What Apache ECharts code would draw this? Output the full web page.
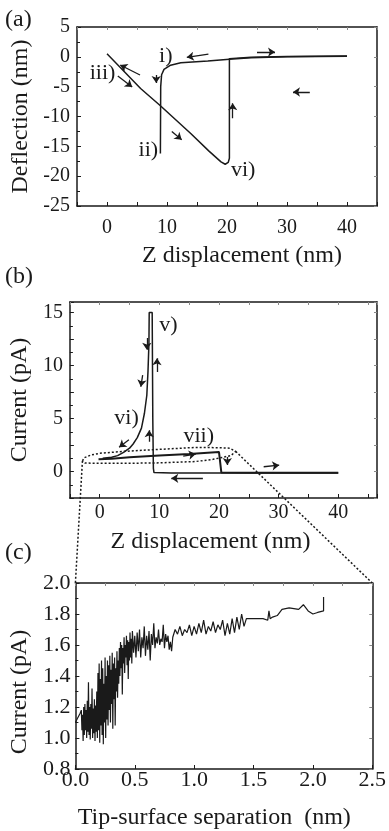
<!DOCTYPE html>
<html>
<head>
<meta charset="utf-8">
<script src="https://cdn.jsdelivr.net/npm/echarts@6/dist/echarts.min.js"></script>
<style>
  html, body { margin: 0; padding: 0; background: #fff; }
  #chart { width: 389px; height: 831px; }
</style>
</head>
<body>
<div id="chart"></div>
<script>
// (a) deflection vs Z displacement
var retractA = [[0, 0.5], [5.6, -5.3], [8.9, -8.2], [14, -12.9], [17, -15.8], [19, -17.6], [19.7, -18.0],
  [20.2, -17.7], [20.4, -17], [20.4, -0.3], [24, -0.05], [30, 0.05], [40, 0.15]];
var approachA = [[40, 0.1], [30, 0.0], [24, -0.15], [20.4, -0.4], [16.8, -0.7], [12.3, -1.0], [10.6, -1.4],
  [9.5, -2.1], [9.1, -3.0], [8.95, -5], [8.9, -16.2]];
var arrowsA = [
  [[5.5, -3.05], [2.2, -1.37]], [[1.8, -3.2], [4.2, -5.05]], [[8.2, -3.05], [8.2, -4.4]],
  [[16.9, 0.47], [13.3, -0.08]], [[25, 0.8], [28, 0.8]], [[33.8, -5.9], [31, -5.9]],
  [[10.8, -12.5], [12.45, -13.9]], [[20.95, -10.3], [20.95, -7.8]]
];
var labelsA = [['i)', 9.8, 0.1], ['ii)', 6.9, -15.6], ['iii)', -0.75, -2.75], ['vi)', 22.7, -19.0]];

// (b) current vs Z displacement
var spikeB = [[0.5, 1.25], [2, 1.35], [3, 1.5], [4, 1.8], [5, 2.2], [5.6, 2.6], [6.3, 3.2], [7, 4.1],
  [7.5, 5.5], [7.9, 7.2], [8.1, 9.5], [8.25, 12], [8.3, 15], [8.8, 15], [8.85, 10], [8.9, 5], [9.0, 0.3],
  [9.1, -0.1], [12, -0.15], [20, -0.15], [30, -0.15], [40, -0.15]];
var mainB = [[-0.2, 1.15], [2, 1.2], [5, 1.35], [10, 1.5], [15, 1.65], [20, 1.85], [20.3, 1.85],
  [20.4, -0.1], [25, -0.12], [40, -0.12]];
var zoomRegionB = [[-2.9, 1.0], [-2.6, 1.3], [-1.5, 1.55], [0, 1.72], [4, 1.9], [8, 2.03], [12, 2.15],
  [16, 2.27], [20, 2.25], [21.8, 2.2], [22.8, 1.9], [22, 1.5], [19, 1.15], [16, 0.94], [9, 0.8],
  [0.8, 0.77], [-2.5, 0.8], [-2.9, 1.0]];
var arrowsB = [
  [[7.9, 12.6], [7.9, 11.5]], [[9.6, 9.4], [9.6, 10.7]], [[7.2, 9.1], [6.9, 8.0]], [[8.3, 2.8], [8.3, 3.9]],
  [[4.9, 3.0], [3.25, 2.3]], [[14, 1.46], [16.1, 1.65]], [[21.4, 1.37], [21.4, 0.61]],
  [[17.3, -0.64], [12, -0.64]], [[27.5, 0.45], [30.1, 0.6]]
];
var labelsB = [['v)', 11.5, 13.8], ['vi)', 4.5, 5.0], ['vii)', 16.6, 3.3]];

// (c) current vs tip-surface separation
var sepCurrent = [
  [0.00, 1.10], [0.02, 1.13], [0.04, 1.16], [0.05, 1.18], [0.055, 1.05], [0.06, 1.15], [0.065, 0.98], [0.07, 1.20],
  [0.075, 1.02], [0.08, 1.22], [0.085, 1.05], [0.09, 1.18], [0.095, 1.00], [0.10, 1.24], [0.105, 1.04], [0.11, 1.36],
  [0.115, 1.02], [0.12, 1.20], [0.125, 0.99], [0.13, 1.22], [0.135, 1.06], [0.14, 1.32], [0.145, 1.00], [0.15, 1.19],
  [0.155, 1.03], [0.16, 1.25], [0.165, 0.98], [0.17, 1.21], [0.175, 1.04], [0.18, 1.30],
  [0.185, 1.00], [0.19, 1.42], [0.195, 1.05], [0.20, 1.48], [0.205, 0.97], [0.21, 1.38], [0.215, 1.08], [0.22, 1.50],
  [0.225, 1.02], [0.23, 1.45], [0.235, 0.96], [0.24, 1.35], [0.245, 1.10], [0.25, 1.52], [0.255, 1.00], [0.26, 1.40],
  [0.265, 1.12], [0.27, 1.50], [0.275, 1.08], [0.28, 1.47], [0.285, 1.18], [0.29, 1.53], [0.295, 1.10], [0.30, 1.44],
  [0.305, 1.22], [0.31, 1.55], [0.315, 1.06], [0.32, 1.48], [0.325, 1.25], [0.33, 1.52], [0.335, 1.08], [0.34, 1.45],
  [0.345, 1.30], [0.35, 1.56], [0.355, 1.26], [0.36, 1.50], [0.365, 1.35], [0.37, 1.58],
  [0.375, 1.40], [0.38, 1.62], [0.385, 1.45], [0.39, 1.60], [0.395, 1.28], [0.40, 1.58], [0.405, 1.48], [0.41, 1.65],
  [0.415, 1.42], [0.42, 1.60], [0.425, 1.52], [0.43, 1.66], [0.435, 1.47], [0.44, 1.63], [0.445, 1.38], [0.45, 1.62],
  [0.455, 1.50], [0.46, 1.68], [0.465, 1.52], [0.47, 1.64], [0.475, 1.48], [0.48, 1.69],
  [0.49, 1.55], [0.50, 1.66], [0.51, 1.52], [0.52, 1.68], [0.53, 1.56], [0.54, 1.70], [0.55, 1.52], [0.56, 1.65],
  [0.57, 1.58], [0.58, 1.72], [0.59, 1.53], [0.60, 1.66], [0.61, 1.57], [0.62, 1.69],
  [0.63, 1.50], [0.64, 1.67], [0.65, 1.60], [0.66, 1.74], [0.67, 1.58], [0.68, 1.65], [0.69, 1.61], [0.70, 1.70],
  [0.71, 1.60], [0.72, 1.64], [0.73, 1.62], [0.74, 1.73], [0.75, 1.58], [0.76, 1.67], [0.77, 1.62], [0.78, 1.66],
  [0.79, 1.57], [0.80, 1.62], [0.81, 1.56], [0.82, 1.65],
  [0.84, 1.70], [0.86, 1.67], [0.88, 1.72], [0.90, 1.66], [0.92, 1.70], [0.94, 1.68], [0.96, 1.73], [0.98, 1.66],
  [1.00, 1.72], [1.02, 1.67], [1.04, 1.74], [1.06, 1.68], [1.08, 1.76], [1.10, 1.67], [1.12, 1.72], [1.14, 1.69],
  [1.16, 1.75], [1.18, 1.68], [1.20, 1.73], [1.22, 1.70], [1.24, 1.76], [1.26, 1.66], [1.28, 1.74], [1.30, 1.67],
  [1.32, 1.77], [1.34, 1.68], [1.36, 1.78], [1.38, 1.70], [1.40, 1.80], [1.42, 1.72], [1.44, 1.77],
  [1.50, 1.77], [1.58, 1.77], [1.62, 1.76], [1.63, 1.82], [1.64, 1.77], [1.66, 1.78], [1.70, 1.79], [1.74, 1.83],
  [1.80, 1.84], [1.88, 1.83], [1.92, 1.86], [1.96, 1.82], [2.00, 1.80], [2.04, 1.81], [2.09, 1.82], [2.09, 1.91]
];

var serif = "'Liberation Serif', 'Times New Roman', Times, serif";
var ink = '#1a1a1a';
var chart = echarts.init(document.getElementById('chart'));

function bottomAxis(g, min, max, interval, fmt, size, margin, name, gap, pad) {
  return {
    gridIndex: g, type: 'value', min: min, max: max, interval: interval,
    axisLine: { onZero: false, lineStyle: { color: ink, width: 1.5 } },
    axisTick: { inside: true, length: 4, lineStyle: { color: ink } },
    axisLabel: { formatter: fmt, fontFamily: serif, fontSize: size, color: ink, margin: margin },
    splitLine: { show: false },
    name: name, nameLocation: 'middle', nameGap: gap,
    nameTextStyle: { fontFamily: serif, fontSize: 24, color: ink, padding: pad }
  };
}
function leftAxis(g, min, max, interval, fmt, size, margin, name, gap, pad) {
  return {
    gridIndex: g, type: 'value', min: min, max: max, interval: interval,
    axisLine: { onZero: false, lineStyle: { color: ink, width: 1.5 } },
    axisTick: { inside: true, length: 4, lineStyle: { color: ink } },
    minorTick: { show: true, splitNumber: 2, length: 3, lineStyle: { color: ink } },
    axisLabel: { formatter: fmt, fontFamily: serif, fontSize: size, color: ink, margin: margin },
    splitLine: { show: false },
    name: name, nameLocation: 'middle', nameGap: gap,
    nameTextStyle: { fontFamily: serif, fontSize: 24, color: ink, padding: pad }
  };
}
function mirror(g, pos, min, max, interval) {
  return {
    gridIndex: g, type: 'value', position: pos, min: min, max: max, interval: interval,
    axisLine: { onZero: false, lineStyle: { color: ink, width: 1.5 } },
    axisTick: { inside: true, length: 3, lineStyle: { color: '#888' } },
    axisLabel: { show: false }, splitLine: { show: false }
  };
}
function curve(x, y, data, width) {
  return { type: 'line', xAxisIndex: x, yAxisIndex: y, data: data, symbol: 'none', animation: false,
    lineStyle: { color: ink, width: width } };
}
function arrows(x, y, list) {
  return { type: 'lines', coordinateSystem: 'cartesian2d', xAxisIndex: x, yAxisIndex: y, animation: false,
    symbol: ['none', 'arrow'], symbolSize: 7,
    lineStyle: { color: ink, width: 1.3, opacity: 1 },
    data: list.map(function (c) { return { coords: c }; }) };
}
function notes(x, y, list) {
  return { type: 'scatter', xAxisIndex: x, yAxisIndex: y, symbolSize: 1, animation: false,
    itemStyle: { color: 'transparent', opacity: 1 },
    label: { show: true, position: 'inside', formatter: '{b}', fontFamily: serif, fontSize: 22,
      color: ink, opacity: 1 },
    data: list.map(function (l) { return { name: l[0], value: [l[1], l[2]] }; }) };
}
var int = function (v) { return v; };
var tens = function (v) { return (v % 10 === 0 && v >= 0 && v <= 40) ? v : ''; };
var fives = function (v) { return (v % 5 === 0 && v >= 0) ? v : ''; };
var one = function (v) { return v.toFixed(1); };

var option = {
  backgroundColor: '#fff',
  grid: [
    { left: 77, top: 27, width: 300, height: 179 },
    { left: 65, top: 302, width: 312, height: 196 },
    { left: 72, top: 583, width: 305, height: 196 }
  ],
  xAxis: [
    bottomAxis(0, -5, 45, 5, tens, 20, 12, 'Z displacement (nm)', 38, [0, 0, 0, 30]),
    mirror(0, 'top', -5, 45, 5),
    bottomAxis(1, -5, 46.5, 5, tens, 20, 5, 'Z displacement (nm)', 32, [0, 26, 0, 0]),
    mirror(1, 'top', -5, 46.5, 5),
    bottomAxis(2, 0, 2.5, 0.5, one, 22, 0, 'Tip-surface separation  (nm)', 37, [0, 19, 0, 0]),
    mirror(2, 'top', 0, 2.5, 0.25)
  ],
  yAxis: [
    leftAxis(0, -25, 5, 5, int, 20, 7, 'Deflection (nm)', 36, 0),
    mirror(0, 'right', -25, 5, 5),
    leftAxis(1, -2.5, 16, 2.5, fives, 20, 7, 'Current (pA)', 28, 0),
    mirror(1, 'right', -2.5, 16, 2.5),
    leftAxis(2, 0.8, 2.0, 0.2, one, 22, 5, 'Current (pA)', 33, [0, 0, 0, -32]),
    mirror(2, 'right', 0.8, 2.0, 0.2)
  ],
  series: [
    curve(0, 0, retractA, 1.5),
    curve(0, 0, approachA, 1.5),
    arrows(0, 0, arrowsA),
    notes(0, 0, labelsA),
    { type: 'line', xAxisIndex: 2, yAxisIndex: 2, data: zoomRegionB, symbol: 'none', animation: false,
      lineStyle: { color: ink, width: 1.5, type: [2, 2] } },
    curve(2, 2, spikeB, 1.5),
    curve(2, 2, mainB, 2),
    arrows(2, 2, arrowsB),
    notes(2, 2, labelsB),
    curve(4, 4, sepCurrent, 1.2)
  ],
  graphic: [
    { id: 'ta', type: 'text', left: 5, top: 8, style: { text: '(a)', fontFamily: serif, fontSize: 24, fill: ink } },
    { id: 'tb', type: 'text', left: 5, top: 265, style: { text: '(b)', fontFamily: serif, fontSize: 24, fill: ink } },
    { id: 'tc', type: 'text', left: 5, top: 541, style: { text: '(c)', fontFamily: serif, fontSize: 24, fill: ink } }
  ]
};
chart.setOption(option);

// dotted lines joining the marked region in (b) to the corners of (c)
var a1 = chart.convertToPixel({ seriesIndex: 4 }, zoomRegionB[0]);
var a2 = chart.convertToPixel({ seriesIndex: 4 }, zoomRegionB[10]);
var c1 = chart.convertToPixel({ seriesIndex: 9 }, [0, 2.0]);
var c2 = chart.convertToPixel({ seriesIndex: 9 }, [2.5, 2.0]);
chart.setOption({
  graphic: [
    { id: 'linkLeft', type: 'line', shape: { x1: a1[0], y1: a1[1], x2: c1[0], y2: c1[1] },
      style: { stroke: ink, lineWidth: 1.5, lineDash: [2, 2] } },
    { id: 'linkRight', type: 'line', shape: { x1: a2[0], y1: a2[1], x2: c2[0], y2: c2[1] },
      style: { stroke: ink, lineWidth: 1.5, lineDash: [2, 2] } }
  ]
});
</script>
</body>
</html>
